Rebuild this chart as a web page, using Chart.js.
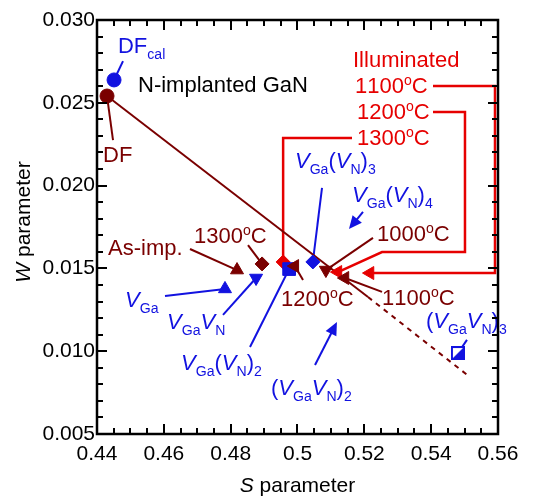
<!DOCTYPE html>
<html>
<head>
<meta charset="utf-8">
<script src="https://cdn.jsdelivr.net/npm/chart.js@4.4.1/dist/chart.umd.min.js"></script>
<style>
  html, body { margin: 0; padding: 0; background: #fff; }
  #wrap { width: 540px; height: 496px; position: relative; }
</style>
</head>
<body>
<div id="wrap"><canvas id="swChart"></canvas></div>
<script>
// S and W parameters
const dfS = [0.4430];
const dfW = [0.02541];
const dfCalS = [0.4451];
const dfCalW = [0.02638];

// as-implanted and annealed samples
const annealNames = ['As-imp.', '1000°C', '1100°C', '1200°C', '1300°C'];
const annealS = [0.4819, 0.5085, 0.5142, 0.4992, 0.4894];
const annealW = [0.01490, 0.01490, 0.01442, 0.01514, 0.01527];

// illuminated samples
const illumNames = ['1100°C', '1200°C', '1300°C'];
const illumS = [0.5217, 0.5121, 0.4957];
const illumW = [0.01472, 0.01478, 0.01539];

// calculated defects
const calcNames = ['VGa', 'VGaVN', 'VGa(VN)2', 'VGa(VN)3', '(VGaVN)3'];
const calcS = [0.4783, 0.4876, 0.4975, 0.5046, 0.5480];
const calcW = [0.01376, 0.01442, 0.01496, 0.01539, 0.00989];

// calculated values marked by arrows: VGa(VN)4, (VGaVN)2
const arrowS = [0.5154, 0.5118];
const arrowW = [0.01738, 0.01176];

// line from DF (solid, then dashed)
const lineS = [0.4430, 0.5211, 0.5516];
const lineW = [0.02541, 0.01327, 0.00844];

const xTicks = [0.44, 0.46, 0.48, 0.50, 0.52, 0.54, 0.56];
const xTickLabels = ['0.44', '0.46', '0.48', '0.5', '0.52', '0.54', '0.56'];
const yTicks = [0.005, 0.010, 0.015, 0.020, 0.025, 0.030];
const yTickLabels = ['0.005', '0.010', '0.015', '0.020', '0.025', '0.030'];

const BLUE = '#1212e0';
const DARK = '#7a0000';
const RED = '#e60000';
const FONT = '"Liberation Sans", Arial, sans-serif';

const sets = {
    df: [dfS, dfW], dfcal: [dfCalS, dfCalW], anneal: [annealS, annealW],
    illum: [illumS, illumW], calc: [calcS, calcW], arrow: [arrowS, arrowW]
};

// text labels: left end and baseline in axis units
const labels = [
    { t: 'DF_{cal}', s: 0.44628, w: 0.02801, c: BLUE },
    { t: 'N-implanted GaN', s: 0.45227, w: 0.02565, c: '#000' },
    { t: 'DF', s: 0.44180, w: 0.02143, c: DARK },
    { t: 'Illuminated', s: 0.51661, w: 0.02716, c: RED },
    { t: '1100^{o}C', s: 0.51721, w: 0.02559, c: RED },
    { t: '1200^{o}C', s: 0.51781, w: 0.02402, c: RED },
    { t: '1300^{o}C', s: 0.51781, w: 0.02245, c: RED },
    { t: '*V*_{Ga}(*V*_{N})_{3}', s: 0.49925, w: 0.02106, c: BLUE },
    { t: '*V*_{Ga}(*V*_{N})_{4}', s: 0.51631, w: 0.01901, c: BLUE },
    { t: '1000^{o}C', s: 0.52379, w: 0.01665, c: DARK },
    { t: '1100^{o}C', s: 0.52529, w: 0.01279, c: DARK },
    { t: '1200^{o}C', s: 0.49506, w: 0.01273, c: DARK },
    { t: '1300^{o}C', s: 0.46903, w: 0.01653, c: DARK },
    { t: 'As-imp.', s: 0.44329, w: 0.01581, c: DARK },
    { t: '*V*_{Ga}', s: 0.44838, w: 0.01267, c: BLUE },
    { t: '*V*_{Ga}*V*_{N}', s: 0.46095, w: 0.01134, c: BLUE },
    { t: '*V*_{Ga}(*V*_{N})_{2}', s: 0.46514, w: 0.00886, c: BLUE },
    { t: '(*V*_{Ga}*V*_{N})_{2}', s: 0.49207, w: 0.00736, c: BLUE },
    { t: '(*V*_{Ga}*V*_{N})_{3}', s: 0.53845, w: 0.01140, c: BLUE }
];

// leader lines from labels to their points
const leaders = [
    { c: BLUE, path: [[0.44778, 0.02752]], to: ['dfcal', 0] },
    { c: DARK, path: [[0.44479, 0.02275]], to: ['df', 0] },
    { c: RED, lw: 2.5, path: [[0.54055, 0.02601], [0.55910, 0.02601]], to: ['illum', 0], turn: 'vh' },
    { c: RED, lw: 2.5, path: [[0.54055, 0.02444], [0.55012, 0.02444], [0.55012, 0.01599], [0.52529, 0.01599]], to: ['illum', 1] },
    { c: RED, lw: 2.5, path: [[0.51631, 0.02287]], to: ['illum', 2], turn: 'hv' },
    { c: BLUE, path: [[0.50733, 0.01986]], to: ['calc', 3] },
    { c: BLUE, path: [[0.51960, 0.01841]], to: ['arrow', 0], head: true },
    { c: DARK, path: [[0.52259, 0.01684]], to: ['anneal', 1] },
    { c: DARK, path: [[0.52529, 0.01358]], to: ['anneal', 2] },
    { c: DARK, path: [[0.50165, 0.01430]], to: ['anneal', 3] },
    { c: DARK, path: [[0.48519, 0.01641]], to: ['anneal', 4] },
    { c: DARK, path: [[0.46783, 0.01617]], to: ['anneal', 0] },
    { c: BLUE, path: [[0.46035, 0.01333]], to: ['calc', 0] },
    { c: BLUE, path: [[0.47771, 0.01219]], to: ['calc', 1] },
    { c: BLUE, path: [[0.48579, 0.01025]], to: ['calc', 2] },
    { c: BLUE, path: [[0.50524, 0.00917]], to: ['arrow', 1], head: true },
    { c: BLUE, path: [[0.55072, 0.01068]], to: ['calc', 4] }
];

function toPoints(xs, ys) {
    return xs.map((x, i) => ({ x: x, y: ys[i] }));
}

// square with lower-right half filled
function halfSquare(color, size) {
    const c = document.createElement('canvas');
    c.width = c.height = size;
    const g = c.getContext('2d');
    g.fillStyle = '#fff';
    g.fillRect(0, 0, size, size);
    g.fillStyle = color;
    g.beginPath();
    g.moveTo(size, 0); g.lineTo(size, size); g.lineTo(0, size);
    g.closePath();
    g.fill();
    g.strokeStyle = color;
    g.lineWidth = 2;
    g.strokeRect(1, 1, size - 2, size - 2);
    return c;
}

// * toggles italic, _{..} subscript, ^{..} superscript
function drawRich(ctx, markup, x, y, color, size) {
    let italic = false, mode = 0, i = 0;
    ctx.fillStyle = color;
    ctx.textBaseline = 'alphabetic';
    ctx.textAlign = 'left';
    while (i < markup.length) {
        const ch = markup[i];
        if (ch === '*') { italic = !italic; i++; continue; }
        if ((ch === '_' || ch === '^') && markup[i + 1] === '{') { mode = ch === '_' ? 1 : 2; i += 2; continue; }
        if (ch === '}' && mode) { mode = 0; i++; continue; }
        const fs = mode ? size * 0.64 : size;
        const dy = mode === 1 ? size * 0.28 : (mode === 2 ? -size * 0.38 : 0);
        ctx.font = (italic ? 'italic ' : '') + fs + 'px ' + FONT;
        ctx.fillText(ch, x, y + dy);
        x += ctx.measureText(ch).width;
        i++;
    }
}

function arrowHead(ctx, x0, y0, x1, y1, color) {
    const a = Math.atan2(y1 - y0, x1 - x0);
    const len = 13, half = 6;
    ctx.fillStyle = color;
    ctx.beginPath();
    ctx.moveTo(x1, y1);
    ctx.lineTo(x1 - len * Math.cos(a) + half * Math.sin(a), y1 - len * Math.sin(a) - half * Math.cos(a));
    ctx.lineTo(x1 - len * Math.cos(a) - half * Math.sin(a), y1 - len * Math.sin(a) + half * Math.cos(a));
    ctx.closePath();
    ctx.fill();
}

const decor = {
    id: 'decor',
    beforeDatasetsDraw(chart) {
        const ctx = chart.ctx, xs = chart.scales.x, ys = chart.scales.y;
        ctx.save();
        leaders.forEach(l => {
            const set = sets[l.to[0]];
            const ts = set[0][l.to[1]], tw = set[1][l.to[1]];
            const pts = l.path.map(p => [p[0], p[1]]);
            const last = pts[pts.length - 1];
            if (l.turn === 'vh') pts.push([last[0], tw]);
            if (l.turn === 'hv') pts.push([ts, last[1]]);
            pts.push([ts, tw]);
            const px = pts.map(p => [xs.getPixelForValue(p[0]), ys.getPixelForValue(p[1])]);
            ctx.strokeStyle = l.c;
            ctx.lineWidth = l.lw || 2;
            ctx.beginPath();
            px.forEach((p, i) => {
                let [x, y] = p;
                if (l.head && i === px.length - 1) {
                    const [x0, y0] = px[i - 1];
                    const d = Math.hypot(x - x0, y - y0);
                    x = x - (x - x0) / d * 8;
                    y = y - (y - y0) / d * 8;
                }
                if (i === 0) ctx.moveTo(x, y); else ctx.lineTo(x, y);
            });
            ctx.stroke();
            if (l.head) {
                const n = px.length;
                arrowHead(ctx, px[n - 2][0], px[n - 2][1], px[n - 1][0], px[n - 1][1], l.c);
            }
        });
        ctx.restore();
    },
    afterDatasetsDraw(chart) {
        const ctx = chart.ctx, xs = chart.scales.x, ys = chart.scales.y;
        const { left, right, top, bottom } = chart.chartArea;
        ctx.save();
        labels.forEach(l => {
            drawRich(ctx, l.t, xs.getPixelForValue(l.s), ys.getPixelForValue(l.w), l.c, 22);
        });

        // inward ticks on all four sides
        ctx.strokeStyle = '#000';
        ctx.lineWidth = 2;
        ctx.beginPath();
        for (let k = 0; k <= 24; k++) {
            const px = Math.round(xs.getPixelForValue(0.44 + k * 0.005));
            const len = k % 4 === 0 ? 10 : 6;
            ctx.moveTo(px, bottom); ctx.lineTo(px, bottom - len);
            ctx.moveTo(px, top); ctx.lineTo(px, top + len);
        }
        for (let k = 0; k <= 25; k++) {
            const py = Math.round(ys.getPixelForValue(0.005 + k * 0.001));
            const len = k % 5 === 0 ? 10 : 6;
            ctx.moveTo(left, py); ctx.lineTo(left + len, py);
            ctx.moveTo(right, py); ctx.lineTo(right - len, py);
        }
        ctx.stroke();
        ctx.lineWidth = 2.5;
        ctx.strokeRect(left, top, right - left, bottom - top);

        // axis titles
        ctx.fillStyle = '#000';
        ctx.textBaseline = 'alphabetic';
        ctx.textAlign = 'left';
        const xt = [['S', 'italic '], [' parameter', '']];
        ctx.font = '21px ' + FONT;
        let total = 0;
        xt.forEach(p => { ctx.font = p[1] + '21px ' + FONT; total += ctx.measureText(p[0]).width; });
        let x0 = (left + right) / 2 - total / 2;
        xt.forEach(p => { ctx.font = p[1] + '21px ' + FONT; ctx.fillText(p[0], x0, bottom + 58); x0 += ctx.measureText(p[0]).width; });

        ctx.translate(30, top + 202);
        ctx.rotate(-Math.PI / 2);
        const yt = [['W', 'italic '], [' parameter', '']];
        total = 0;
        yt.forEach(p => { ctx.font = p[1] + '21px ' + FONT; total += ctx.measureText(p[0]).width; });
        x0 = -total / 2;
        yt.forEach(p => { ctx.font = p[1] + '21px ' + FONT; ctx.fillText(p[0], x0, 0); x0 += ctx.measureText(p[0]).width; });
        ctx.restore();
    }
};

document.addEventListener('DOMContentLoaded', function() {
    const ctx = document.getElementById('swChart').getContext('2d');
    const tri = 'triangle';
    new Chart(ctx, {
        type: 'scatter',
        data: {
            datasets: [{
                label: 'Annealed',
                data: toPoints(annealS, annealW),
                pointStyle: [tri, tri, tri, tri, 'rectRot'],
                pointRotation: [0, 180, 270, 270, 0],
                pointRadius: [7.5, 7.5, 7.5, 7.5, 7],
                backgroundColor: DARK,
                borderColor: DARK,
                borderWidth: 1
            }, {
                label: 'Calculated',
                data: toPoints(calcS, calcW),
                pointStyle: [tri, tri, 'rect', 'rectRot', halfSquare(BLUE, 14)],
                pointRotation: [0, 180, 0, 0, 0],
                pointRadius: [7.5, 7.5, 9, 7, 7],
                backgroundColor: BLUE,
                borderColor: BLUE,
                borderWidth: 1
            }, {
                label: 'Illuminated',
                data: toPoints(illumS, illumW),
                pointStyle: [tri, tri, 'rectRot'],
                pointRotation: [270, 270, 0],
                pointRadius: [7.5, 7.5, 7],
                backgroundColor: RED,
                borderColor: RED,
                borderWidth: 1
            }, {
                label: 'DF',
                data: toPoints(dfS, dfW),
                pointStyle: 'circle',
                pointRadius: 7,
                backgroundColor: DARK,
                borderColor: DARK
            }, {
                label: 'DF cal',
                data: toPoints(dfCalS, dfCalW),
                pointStyle: 'circle',
                pointRadius: 7,
                backgroundColor: BLUE,
                borderColor: BLUE
            }, {
                label: 'Line',
                data: toPoints(lineS, lineW),
                showLine: true,
                pointRadius: 0,
                borderColor: DARK,
                borderWidth: 2,
                segment: {
                    borderDash: c => c.p0DataIndex === 1 ? [5, 5] : undefined
                }
            }]
        },
        options: {
            responsive: true,
            maintainAspectRatio: false,
            animation: false,
            layout: { padding: { top: 20, right: 42, left: 0, bottom: 0 } },
            plugins: {
                legend: { display: false },
                tooltip: { enabled: false }
            },
            scales: {
                x: {
                    type: 'linear',
                    min: 0.44,
                    max: 0.56,
                    afterBuildTicks: s => { s.ticks = xTicks.map(v => ({ value: v })); },
                    afterFit: s => { s.height = 62; },
                    grid: { display: false, drawTicks: false },
                    border: { display: false },
                    ticks: {
                        callback: (v, i) => xTickLabels[i],
                        font: { family: FONT, size: 21 },
                        color: '#000',
                        padding: 8,
                        maxRotation: 0,
                        autoSkip: false
                    }
                },
                y: {
                    type: 'linear',
                    min: 0.005,
                    max: 0.030,
                    afterBuildTicks: s => { s.ticks = yTicks.map(v => ({ value: v })); },
                    afterFit: s => { s.width = 97; },
                    grid: { display: false, drawTicks: false },
                    border: { display: false },
                    ticks: {
                        callback: (v, i) => yTickLabels[i],
                        font: { family: FONT, size: 21 },
                        color: '#000',
                        padding: 2,
                        autoSkip: false
                    }
                }
            }
        },
        plugins: [decor]
    });
});
</script>
</body>
</html>
